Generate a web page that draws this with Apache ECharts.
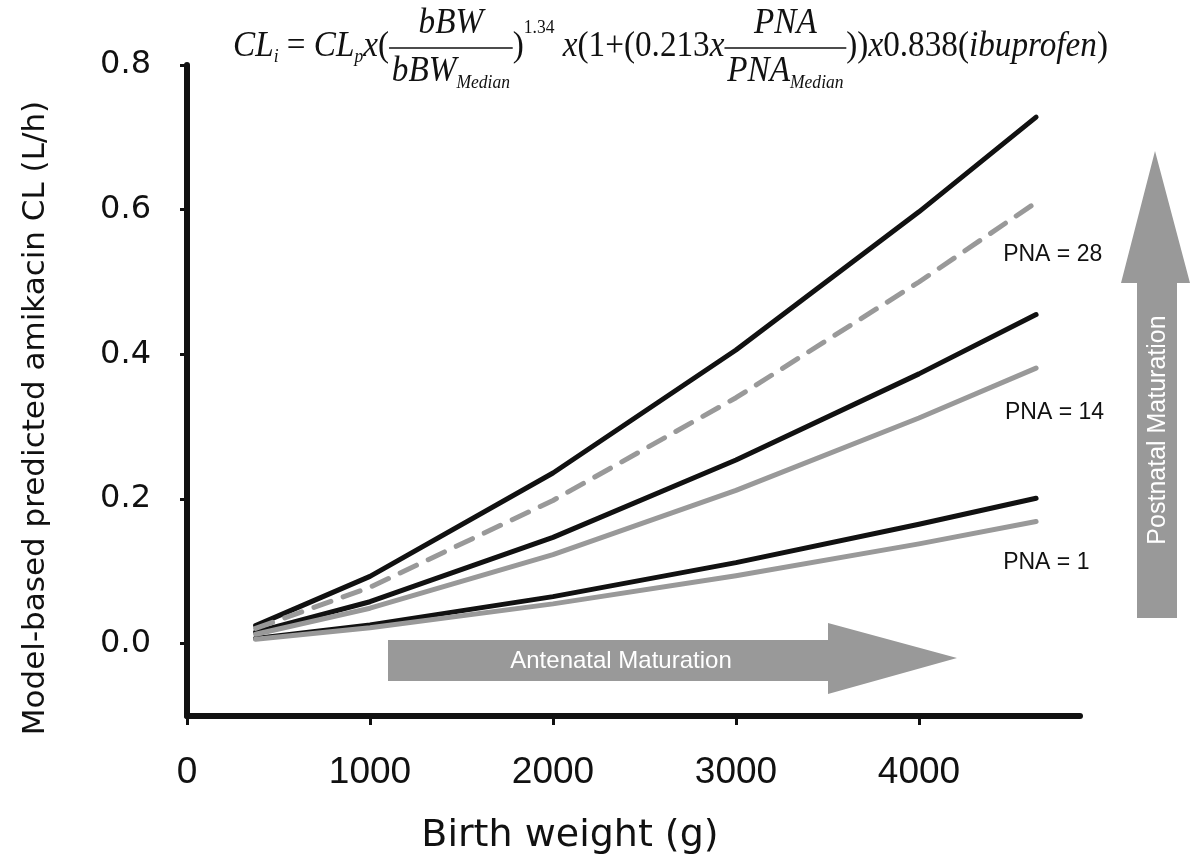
<!DOCTYPE html>
<html>
<head>
<meta charset="utf-8">
<script src="https://cdn.jsdelivr.net/npm/echarts@6/dist/echarts.min.js"></script>
<style>
html,body{margin:0;padding:0;background:#fff;}
#main{width:1191px;height:861px;}
</style>
</head>
<body>
<div id="main"></div>
<script>
// birth weight (g) and predicted CL (L/h)
let bw=[375,1000,2000,3000,4000,4640];
let pna28=[0.025,0.093,0.236,0.406,0.597,0.728];
let pna28Ibu=[0.021,0.078,0.198,0.340,0.500,0.610];
let pna14=[0.016,0.058,0.147,0.254,0.373,0.455];
let pna14Ibu=[0.013,0.049,0.123,0.212,0.312,0.381];
let pna1=[0.007,0.026,0.065,0.112,0.165,0.201];
let pna1Ibu=[0.006,0.022,0.055,0.094,0.138,0.169];
let xTicks=[0,1000,2000,3000,4000];
let yTicks=[0,0.2,0.4,0.6,0.8];
let pnaLabels=["PNA = 28","PNA = 14","PNA = 1"];
let pnaLabelPos=[[4460,0.538],[4470,0.320],[4460,0.112]];

const BLACK="#111";
const GREY="#999";
const SANS='"DejaVu Sans", sans-serif';
const SERIF='"Liberation Serif", "Times New Roman", serif';

function pairs(ys){
    return bw.map((x,i)=>[x,ys[i]]);
}
function line(ys,color,dash){
    return {
        type:'line',
        data:pairs(ys),
        symbol:'none',
        silent:true,
        lineStyle:{color:color,width:5,type:dash||'solid',cap:'round',join:'round'}
    };
}

// formula above the plot, laid out piece by piece
let ctx=document.createElement('canvas').getContext('2d');
function textW(t,font){ ctx.font=font; return ctx.measureText(t).width; }
function formula(){
    const B=36,S=19;
    const f=(it,size)=>(it?'italic ':'')+size+'px '+SERIF;
    let els=[];
    let x=0;
    const yMain=47,ySub=57,ySup=28,yNum=24,yBar=48,yDen=72,yDenSub=83;
    function put(t,it,size,y,atX){
        let font=f(it,size);
        els.push({type:'text',x:atX,y:y,style:{text:t,font:font,fill:BLACK,verticalAlign:'middle',align:'left'}});
        return textW(t,font);
    }
    function seg(t,it,size,y){ x+=put(t,it,size||B,y||yMain,x); }
    function frac(num,den,sub){
        let wn=textW(num,f(true,B));
        let wd1=textW(den,f(true,B));
        let wd=wd1+textW(sub,f(true,S));
        let len=Math.max(wn,wd)+6;
        put(num,true,B,yNum,x+(len-wn)/2);
        let dx=x+(len-wd)/2;
        put(den,true,B,yDen,dx);
        put(sub,true,S,yDenSub,dx+wd1);
        els.push({type:'line',shape:{x1:x,y1:yBar,x2:x+len,y2:yBar},style:{stroke:BLACK,lineWidth:1.6}});
        x+=len;
    }
    seg("CL",true); seg("i",true,S,ySub); seg(" = ",false);
    seg("CL",true); seg("p",true,S,ySub); seg("x",true); seg("(",false);
    frac("bBW","bBW","Median");
    seg(")",false); seg("1.34",false,S,ySup); seg(" x",true); seg("(1+(0.213",false); seg("x",true);
    frac("PNA","PNA","Median");
    seg("))",false); seg("x",true); seg("0.838(",false); seg("ibuprofen",true); seg(")",false);
    return {els:els,width:x};
}

let myChart=echarts.init(document.getElementById('main'),null,{renderer:'canvas'});
let option={
    animation:false,
    backgroundColor:'#fff',
    grid:{left:187,right:111,top:65,bottom:145,containLabel:false,outerBoundsMode:'none'},
    xAxis:{
        type:'value',min:0,max:4880,
        splitLine:{show:false},
        axisLine:{show:true,onZero:false,lineStyle:{color:BLACK,width:6,cap:'round'}},
        axisTick:{show:true,length:9,customValues:xTicks,lineStyle:{color:BLACK,width:3}},
        axisLabel:{customValues:xTicks,margin:38,color:BLACK,fontSize:37,
            fontFamily:'"Liberation Sans Narrow", "Liberation Sans", sans-serif',
            formatter:function(v){return String(v);}}
    },
    yAxis:{
        type:'value',min:-0.1,max:0.8,
        splitLine:{show:false},
        axisLine:{show:true,onZero:false,lineStyle:{color:BLACK,width:6,cap:'round'}},
        axisTick:{show:true,length:7,customValues:yTicks,lineStyle:{color:BLACK,width:3}},
        axisLabel:{customValues:yTicks,margin:36,color:BLACK,fontSize:32,fontFamily:SANS,
            formatter:function(v){return v.toFixed(1);}}
    },
    series:[
        line(pna28,BLACK),
        line(pna14,BLACK),
        line(pna1,BLACK),
        line(pna28Ibu,GREY,[18,13]),
        line(pna14Ibu,GREY),
        line(pna1Ibu,GREY)
    ]
};
myChart.setOption(option);

let fm=formula();
let graphics=[
    {type:'group',x:233,y:0,scaleX:875/fm.width,children:fm.els},
    {type:'text',x:36,y:418,rotation:Math.PI/2,
        style:{text:'Model-based predicted amikacin CL (L/h)',font:'31px '+SANS,fill:BLACK,align:'center',verticalAlign:'middle'}},
    {type:'text',x:570,y:836,
        style:{text:'Birth weight (g)',font:'38px '+SANS,fill:BLACK,align:'center',verticalAlign:'middle'}},
    // antenatal arrow
    {type:'polygon',shape:{points:[[388,640],[828,640],[828,623],[957,658],[828,694],[828,681],[388,681]]},style:{fill:GREY}},
    {type:'text',x:621,y:661,
        style:{text:'Antenatal Maturation',font:'24px "Liberation Sans", sans-serif',fill:'#fff',align:'center',verticalAlign:'middle'}},
    // postnatal arrow
    {type:'polygon',shape:{points:[[1137,618],[1137,283],[1121,283],[1155,151],[1190,283],[1177,283],[1177,618]]},style:{fill:GREY}},
    {type:'text',x:1158,y:430,rotation:Math.PI/2,
        style:{text:'Postnatal Maturation',font:'25px "Liberation Sans", sans-serif',fill:'#fff',align:'center',verticalAlign:'middle'}}
];
pnaLabels.forEach(function(t,i){
    let p=myChart.convertToPixel({xAxisIndex:0,yAxisIndex:0},pnaLabelPos[i]);
    graphics.push({type:'text',x:p[0],y:p[1],
        style:{text:t,font:'23px "Liberation Sans", sans-serif',fill:BLACK,align:'left',verticalAlign:'middle'}});
});
myChart.setOption({graphic:graphics});
</script>
</body>
</html>
